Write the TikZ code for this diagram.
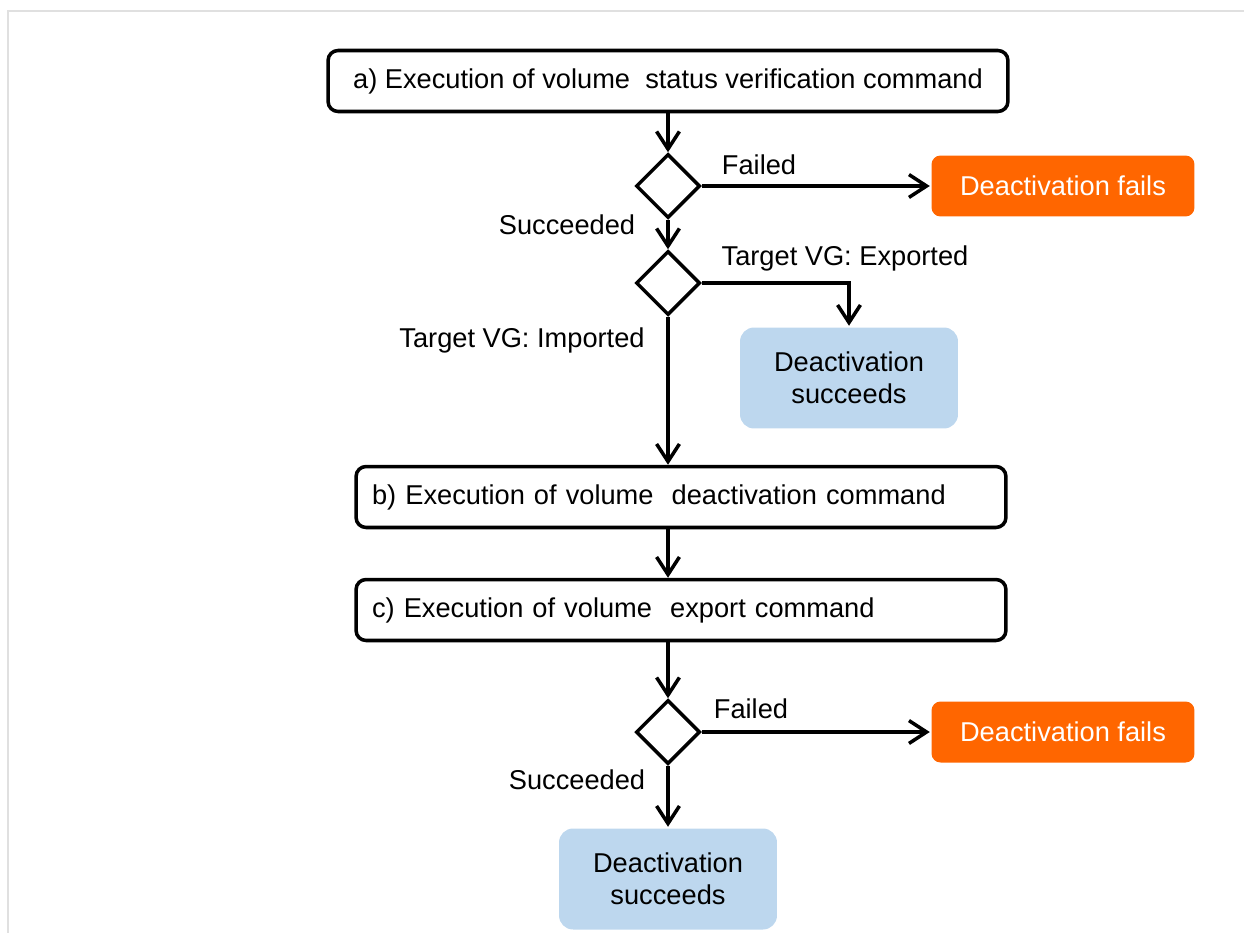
\documentclass[tikz,border=0pt]{standalone}
\usepackage{fontspec}
\setmainfont{Liberation Sans}
\usetikzlibrary{arrows.meta}
\usetikzlibrary{shapes.geometric}

\definecolor{failorange}{HTML}{FF6600}
\definecolor{okblue}{HTML}{BDD7EE}

\begin{document}
\begin{tikzpicture}[x=0.02cm, y=-0.02cm, line width=2pt,
  font=\fontsize{15.5}{18.5}\selectfont,
  cmdbox/.style={draw, rounded corners=0.2cm, minimum height=1.22cm, inner sep=0pt},
  decision/.style={draw, diamond, inner sep=0pt, minimum size=1.28cm},
  failbox/.style={fill=failorange, text=white, rounded corners=0.18cm, minimum width=5.26cm, minimum height=1.22cm},
  okbox/.style={fill=okblue, rounded corners=0.28cm, minimum width=4.36cm, minimum height=2.02cm, align=center},
  flow/.style={-{Straight Barb[length=10pt,width=13pt]}}]
  \useasboundingbox (0,0) rectangle (1244,933);
  \draw[black!12, line width=0.6pt] (8,933) -- (8,11) -- (1244,11);

  \node[cmdbox, minimum width=13.6cm] (verify) at (668,81) {a) Execution of volume\ \ status verification command};
  \node[decision] (chk1) at (668,186) {};
  \node[failbox] (fail1) at (1063,186) {Deactivation fails};
  \node[decision] (chk2) at (668,283) {};
  \node[okbox] (ok1) at (849,378) {Deactivation\\succeeds};
  \node[cmdbox, text width=12.36cm, inner xsep=0.32cm, align=left] (deact) at (681,497) {b) Execution of volume\ \ deactivation command};
  \node[cmdbox, text width=12.36cm, inner xsep=0.32cm, align=left] (export) at (681,610) {c) Execution of volume\ \ export command};
  \node[decision] (chk3) at (668,732) {};
  \node[failbox] (fail2) at (1063,732) {Deactivation fails};
  \node[okbox] (ok2) at (668,879) {Deactivation\\succeeds};

  \node (failed1) at (759,165) {Failed};
  \node (succ1) at (567,225) {Succeeded};
  \node (exported) at (845,258) {Target VG:\ Exported};
  \node (imported) at (522,340) {Target VG:\ Imported};
  \node (failed2) at (751,709) {Failed};
  \node (succ2) at (577,780) {Succeeded};

  \draw[flow] (verify) -- (chk1);
  \draw[flow] (chk1) -- (fail1);
  \draw[flow] (chk1) -- (chk2);
  \draw[flow] (chk2.east) -| (ok1.north);
  \draw[flow] (chk2) -- (chk2 |- deact.north);
  \draw[flow] (chk2 |- deact.south) -- (chk2 |- export.north);
  \draw[flow] (chk2 |- export.south) -- (chk3);
  \draw[flow] (chk3) -- (fail2);
  \draw[flow] (chk3) -- (ok2);
\end{tikzpicture}
\end{document}
